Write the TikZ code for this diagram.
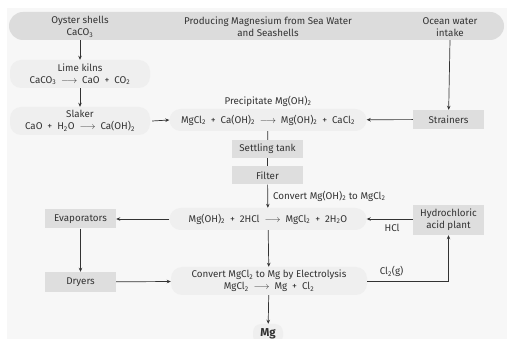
\documentclass[tikz,border=0pt]{standalone}
\usepackage{fontspec}
\setmainfont{Fira Sans}
\usetikzlibrary{arrows.meta}
\definecolor{panel}{HTML}{F7F7F7}
\definecolor{bargrey}{HTML}{DCDCDC}
\definecolor{boxgrey}{HTML}{DEDEDE}
\definecolor{pillgrey}{HTML}{EFEFEF}
\definecolor{ink}{HTML}{333333}
\newcommand{\sub}[1]{\textsubscript{#1}}
\newcommand{\yields}{\enspace$\longrightarrow$\enspace}
\newcommand{\plus}{\enspace+\enspace}

\begin{document}
\begin{tikzpicture}
        [x=1pt,y=-1pt,every node/.style={font=\fontsize{9.8}{12}\selectfont,text=ink,align=center,inner sep=0},
         unit/.style={fill=boxgrey,minimum width=71pt,minimum height=19pt},
         pill/.style={fill=pillgrey,rounded corners=11pt},
         flow/.style={draw=ink,line width=0.7pt,-{Stealth[length=4pt,width=3.5pt]}},
         link/.style={draw=ink,line width=0.7pt}]

        \useasboundingbox (0,0) rectangle (507,339);
        \fill[panel] (7,8) rectangle (507,339);

        % header bar
        \node[fill=bargrey,rounded corners=14pt,minimum width=495pt,minimum height=28pt] (bar) at (256.5,26) {};
        \node (oyster) at (80,27) {Oyster shells\\CaCO\sub{3}};
        \node (title) at (268,27) {Producing Magnesium from Sea Water\\and Seashells};
        \node (ocean) at (450,27) {Ocean water\\intake};

        % lime side
        \node[pill,minimum width=140pt,minimum height=28pt] (kiln) at (80,74) {Lime kilns\\CaCO\sub{3}\yields CaO\plus CO\sub{2}};
        \node[pill,minimum width=140pt,minimum height=28pt] (slaker) at (80,121) {Slaker\\CaO\plus H\sub{2}O\yields Ca(OH)\sub{2}};

        % sea water side
        \node (precip) at (268,101) {Precipitate Mg(OH)\sub{2}};
        \node[pill,minimum width=197pt,minimum height=22pt] (prec) at (268,120) {MgCl\sub{2}\plus Ca(OH)\sub{2}\yields Mg(OH)\sub{2}\plus CaCl\sub{2}};
        \node[unit] (strain) at (448.5,119.5) {Strainers};
        \node[unit,minimum height=18pt] (settle) at (267.5,149) {Settling tank};
        \node[unit,minimum height=18pt] (filter) at (267.5,175.5) {Filter};
        \node[pill,minimum width=197pt,minimum height=22pt] (react) at (268,219) {Mg(OH)\sub{2}\plus 2HCl\yields MgCl\sub{2}\plus 2H\sub{2}O};
        \node[unit] (evap) at (80.5,219) {Evaporators};
        \node[unit,minimum height=30pt] (hcl) at (448.5,220) {Hydrochloric\\acid plant};
        \node[unit,minimum height=20pt] (dry) at (80.5,282) {Dryers};
        \node[pill,minimum width=196pt,minimum height=28pt] (elec) at (269,281) {Convert MgCl\sub{2} to Mg by Electrolysis\\MgCl\sub{2}\yields Mg\plus Cl\sub{2}};
        \node[pill,minimum width=30pt,minimum height=20pt,rounded corners=8pt,font=\fontsize{11.5}{12}\selectfont\bfseries] (mg) at (268,334) {Mg};

        \draw[flow] (oyster |- bar.south) -- (kiln);
        \draw[flow] (kiln) -- (slaker);
        \draw[flow] (slaker.east) ++(2,0) -- (prec.west);
        \draw[flow] (ocean |- bar.south) -- (strain);
        \draw[flow] (strain) -- (prec);
        \draw[link] (prec) -- (settle);
        \draw[link] (settle) -- (filter);
        \draw[flow] (filter) -- (react) node[midway,right=5pt] {Convert Mg(OH)\sub{2} to MgCl\sub{2}};
        \draw[flow] (react) -- (evap);
        \draw[flow] (hcl.west |- react) -- (react) node[pos=0.45,below=5pt] {HCl};
        \draw[flow] (evap) -- (dry);
        \draw[flow] (dry) -- (elec);
        \draw[flow] (react) -- (elec);
        \draw[flow] (elec) -| (hcl) node[pos=0.15,above=4pt] {Cl\sub{2}(g)};
        \draw[flow] (elec) -- (mg);

      \end{tikzpicture}
\end{document}
